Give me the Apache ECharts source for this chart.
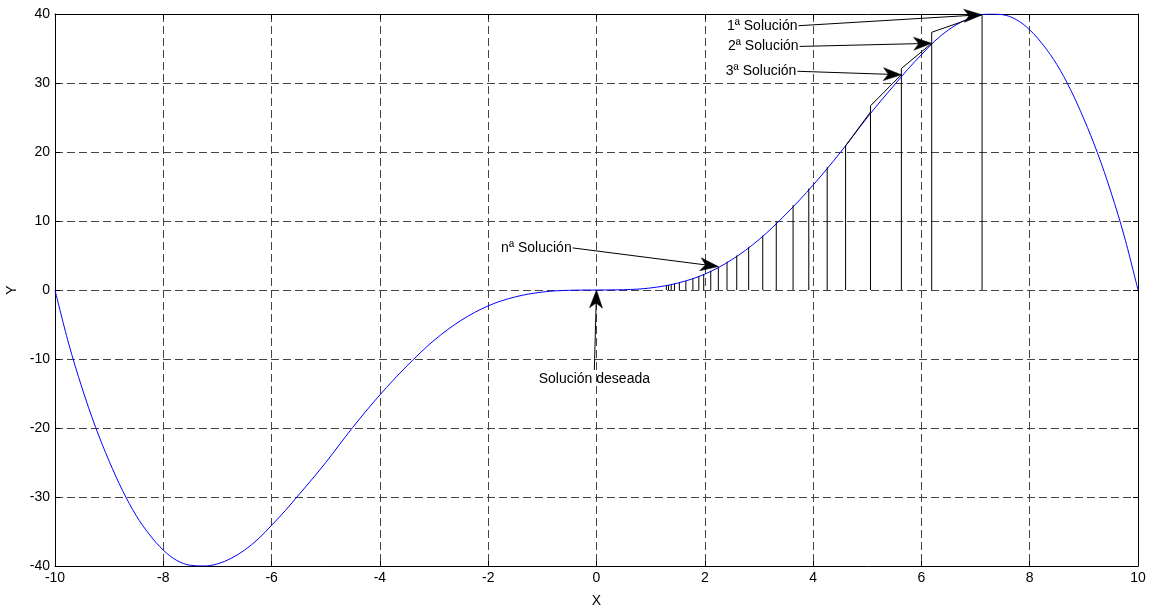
<!DOCTYPE html>
<html>
<head>
<meta charset="utf-8">
<script src="https://cdn.jsdelivr.net/npm/echarts@6/dist/echarts.min.js"></script>
<style>
  html, body { margin: 0; padding: 0; background: #ffffff; }
  #chart { width: 1152px; height: 615px; }
</style>
</head>
<body>
<div id="chart"></div>
<script>
// Function curve y = f(x), sampled on [-10, 10]
const curveX = [-10, -9.75, -9.5, -9.25, -9, -8.75, -8.5, -8.25, -8, -7.75, -7.5, -7.25, -7, -6.75, -6.5, -6.25, -6, -5.75, -5.5, -5.25, -5, -4.5, -4, -3.5, -3, -2.5, -2, -1.5, -1, -0.5,
  0, 0.5, 1, 1.5, 2, 2.5, 3, 3.5, 4, 4.5, 5, 5.25, 5.5, 5.75, 6, 6.25, 6.5, 6.75, 7, 7.25, 7.5, 7.75, 8, 8.25, 8.5, 8.75, 9, 9.25, 9.5, 9.75, 10];
const curveY = [0, -7.7, -14.2, -19.9, -24.8, -29.1, -32.7, -35.5, -37.7, -39.2, -39.9, -40.0, -39.7, -38.9, -37.7, -36.1, -34.1, -32.0, -29.7, -27.4, -25.0, -19.9, -15.2, -11.0, -7.3, -4.4, -2.3, -1.0, -0.3, -0.04,
  0, 0.04, 0.3, 1.0, 2.3, 4.4, 7.3, 11.0, 15.2, 19.9, 25.0, 27.4, 29.7, 32.0, 34.1, 36.1, 37.7, 38.9, 39.7, 40.0, 39.9, 39.2, 37.7, 35.5, 32.7, 29.1, 24.8, 19.9, 14.2, 7.7, 0];

// Successive approximations: abscissa and height of each vertical stem
const iterX = [1.29, 1.33, 1.38, 1.44, 1.53, 1.65, 1.78, 1.89, 1.98, 2.11, 2.25, 2.41, 2.59, 2.81, 3.07, 3.32, 3.63, 3.92, 4.26, 4.60, 5.06, 5.63, 6.19, 7.12];
const iterTop = [0.63, 0.70, 0.78, 0.89, 1.06, 1.33, 1.68, 2.0, 2.33, 2.8, 3.4, 4.1, 5.0, 6.2, 7.9, 9.9, 12.3, 14.7, 17.8, 20.9, 26.7, 32.1, 37.35, 39.9];

// Segments joining each stem top to the previous point on the curve
const chordFrom = [[4.60, 20.9], [5.06, 26.7], [5.63, 32.1], [6.19, 37.35]];
const chordTo = [[5.06, 25.8], [5.63, 31.2], [6.19, 35.75], [7.12, 39.9]];

// Arrow annotations
const noteText = ['1ª Solución', '2ª Solución', '3ª Solución', 'nª Solución', 'Solución deseada'];
const noteFrom = [[3.73, 38.3], [3.75, 35.3], [3.71, 31.7], [-0.44, 6.1], [-0.04, -11.6]];
const noteTo = [[7.12, 39.9], [6.19, 35.75], [5.63, 31.2], [2.25, 3.4], [0, 0]];

// Axis ranges and tick steps
const xRange = [-10, 10], xStep = 2;
const yRange = [-40, 40], yStep = 10;

const FONT = '"Liberation Sans", Arial, Helvetica, sans-serif';
const chart = echarts.init(document.getElementById('chart'), null, { renderer: 'canvas' });

function stemItem(params, api) {
  const x = api.value(0), top = api.value(1);
  const p0 = api.coord([x, 0]);
  const p1 = api.coord([x, top]);
  return {
    type: 'line',
    shape: { x1: p0[0], y1: p0[1], x2: p1[0], y2: p1[1] },
    style: { stroke: '#000', lineWidth: 1 }
  };
}

function chordItem(params, api) {
  const i = params.dataIndex;
  const p0 = api.coord(chordFrom[i]);
  const p1 = api.coord(chordTo[i]);
  return {
    type: 'line',
    shape: { x1: p0[0], y1: p0[1], x2: p1[0], y2: p1[1] },
    style: { stroke: '#000', lineWidth: 1 }
  };
}

function noteItem(params, api) {
  const i = params.dataIndex;
  const p1 = api.coord(noteFrom[i]);
  const p2 = api.coord(noteTo[i]);
  const dx = p2[0] - p1[0], dy = p2[1] - p1[1];
  const len = Math.hypot(dx, dy);
  const ux = dx / len, uy = dy / len;
  const nx = -uy, ny = ux;
  const L = 18, W = 6.5, notch = 5;
  const back = [p2[0] - ux * L, p2[1] - uy * L];
  const inner = [p2[0] - ux * (L - notch), p2[1] - uy * (L - notch)];
  const left = [back[0] + nx * W, back[1] + ny * W];
  const right = [back[0] - nx * W, back[1] - ny * W];
  const below = i === 4;
  return {
    type: 'group',
    children: [
      { type: 'line', shape: { x1: p1[0], y1: p1[1], x2: inner[0], y2: inner[1] },
        style: { stroke: '#000', lineWidth: 1 } },
      { type: 'polygon', shape: { points: [p2, left, inner, right] },
        style: { fill: '#000', stroke: '#000', lineWidth: 0.5 } },
      { type: 'text', x: below ? p1[0] : p1[0] - 1, y: below ? p1[1] + 2 : p1[1],
        style: { text: noteText[i], fill: '#000', font: '14px ' + FONT,
                 align: below ? 'center' : 'right', verticalAlign: below ? 'top' : 'middle' } }
    ]
  };
}

const gridDash = { color: '#444', width: 1, type: [8, 4] };

chart.setOption({
  animation: false,
  backgroundColor: '#ffffff',
  grid: { left: 55, right: 14, top: 14, bottom: 49, containLabel: false, outerBoundsMode: 'none' },
  xAxis: [
    {
      type: 'value', min: xRange[0], max: xRange[1], interval: xStep, position: 'bottom',
      name: 'X', nameLocation: 'middle', nameGap: 28,
      nameTextStyle: { color: '#000', fontFamily: FONT, fontSize: 14 },
      axisLine: { show: true, onZero: false, lineStyle: { color: '#000', width: 1 } },
      axisTick: { show: true, inside: true, length: 5, lineStyle: { color: '#000' } },
      axisLabel: { color: '#000', fontFamily: FONT, fontSize: 14, margin: 5 },
      splitLine: { show: true, lineStyle: gridDash }
    },
    {
      type: 'value', min: xRange[0], max: xRange[1], interval: xStep, position: 'top',
      axisLine: { show: true, onZero: false, lineStyle: { color: '#000', width: 1 } },
      axisTick: { show: true, inside: true, length: 5, lineStyle: { color: '#000' } },
      axisLabel: { show: false }, splitLine: { show: false }
    }
  ],
  yAxis: [
    {
      type: 'value', min: yRange[0], max: yRange[1], interval: yStep, position: 'left',
      name: 'Y', nameLocation: 'middle', nameGap: 36,
      nameTextStyle: { color: '#000', fontFamily: FONT, fontSize: 14 },
      axisLine: { show: true, onZero: false, lineStyle: { color: '#000', width: 1 } },
      axisTick: { show: true, inside: true, length: 5, lineStyle: { color: '#000' } },
      axisLabel: { color: '#000', fontFamily: FONT, fontSize: 14, margin: 5 },
      splitLine: { show: true, lineStyle: gridDash }
    },
    {
      type: 'value', min: yRange[0], max: yRange[1], interval: yStep, position: 'right',
      axisLine: { show: true, onZero: false, lineStyle: { color: '#000', width: 1 } },
      axisTick: { show: true, inside: true, length: 5, lineStyle: { color: '#000' } },
      axisLabel: { show: false }, splitLine: { show: false }
    }
  ],
  series: [
    {
      name: 'f(x)', type: 'line', xAxisIndex: 0, yAxisIndex: 0,
      data: curveX.map((x, i) => [x, curveY[i]]),
      smooth: 0.35, showSymbol: false, z: 3,
      lineStyle: { color: '#0000ff', width: 1 }
    },
    {
      name: 'stems', type: 'custom', xAxisIndex: 0, yAxisIndex: 0, z: 4,
      renderItem: stemItem,
      data: iterX.map((x, i) => [x, iterTop[i]])
    },
    {
      name: 'chords', type: 'custom', xAxisIndex: 0, yAxisIndex: 0, z: 5,
      renderItem: chordItem,
      data: chordFrom.map(p => p)
    },
    {
      name: 'notes', type: 'custom', xAxisIndex: 0, yAxisIndex: 0, z: 6,
      renderItem: noteItem, clip: false,
      data: noteFrom.map(p => p)
    }
  ]
});
</script>
</body>
</html>
